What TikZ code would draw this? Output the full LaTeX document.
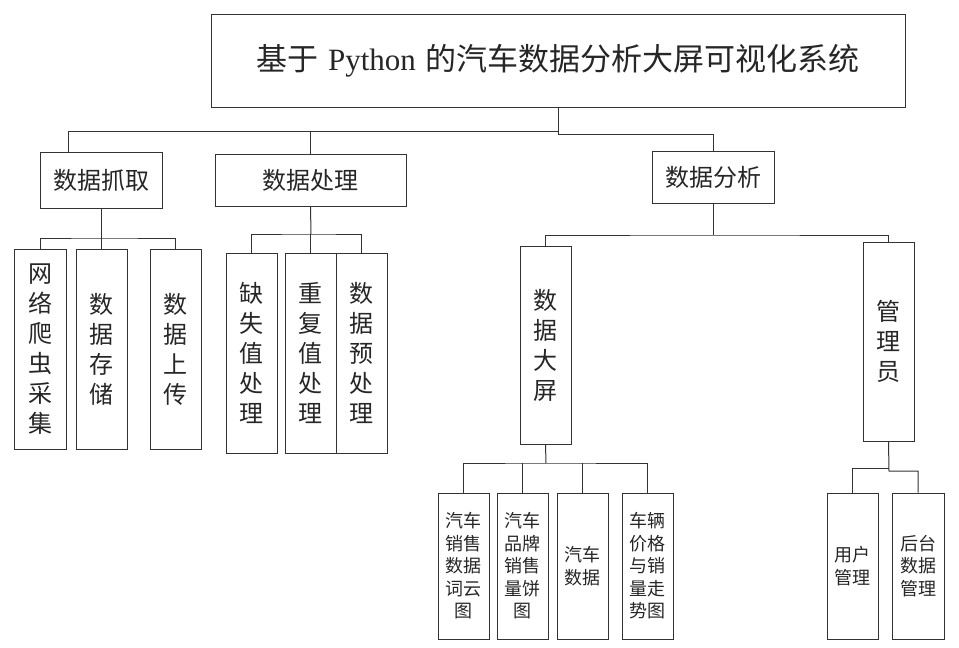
\documentclass[tikz,border=0pt]{standalone}
\usepackage{fontspec}
\setmainfont{Noto Sans CJK SC}
\newfontfamily\pyfont{Liberation Serif}
\usepackage{tikz}

\begin{document}
\begin{tikzpicture}[x=1pt, y=-1pt, line width=1pt, draw=black!80,
        box/.style={draw=black!80, text=black!85, rectangle, inner sep=0pt, align=center},
        big/.style={box, font=\fontsize{24}{30}\selectfont},
        small/.style={box, minimum width=51pt, minimum height=146pt, font=\fontsize{18}{22.5}\selectfont}]
        \useasboundingbox (0, 0) rectangle (959, 648);

        \node[box, minimum width=694pt, minimum height=93pt, font=\fontsize{31}{36}\selectfont] (title) at (558, 60.5)
            {基于\hspace{0.3em}{\pyfont Python}\hspace{0.3em}的汽车数据分析大屏可视化系统};

        \node[big, minimum width=122pt, minimum height=56pt] (grab) at (101, 180) {数据抓取};
        \node[big, minimum width=191pt, minimum height=52pt] (proc) at (310.5, 180) {数据处理};
        \node[big, minimum width=122pt, minimum height=52pt] (anal) at (713, 177) {数据分析};

        \coordinate (t1) at (558, 131);
        \coordinate (t2) at (558, 134);
        \draw (title.south) -- (t2) -| (anal.north);
        \draw (t1) -| ([xshift=29pt]grab.north west);
        \draw (proc.north) -- (proc.north |- t1);

        %%%

        \node[big, minimum width=52pt, minimum height=200pt] (g1) at (40, 349) {网\\络\\爬\\虫\\采\\集};
        \node[big, minimum width=51pt, minimum height=200pt] (g2) at (101.5, 349) {数\\据\\存\\储};
        \node[big, minimum width=51pt, minimum height=200pt] (g3) at (175.5, 349) {数\\据\\上\\传};

        \coordinate (gb) at (101, 238);
        \draw (grab.south) -- (gb);
        \draw (g1.north) |- (gb) -| (g3.north);
        \draw (g2.north) -- (g2.north |- gb);

        \node[big, minimum width=51pt, minimum height=200pt] (p1) at (251.5, 353) {缺\\失\\值\\处\\理};
        \node[big, minimum width=51pt, minimum height=200pt] (p2) at (310.5, 353) {重\\复\\值\\处\\理};
        \node[big, minimum width=51pt, minimum height=200pt] (p3) at (361.5, 353) {数\\据\\预\\处\\理};

        \coordinate (pb) at (311, 234);
        \draw (proc.south) -- (pb);
        \draw (p1.north) |- (pb) -| (p3.north);
        \draw (p2.north) -- (p2.north |- pb);

        %%%

        \node[big, minimum width=51pt, minimum height=198pt] (screen) at (545.5, 345) {数\\据\\大\\屏};
        \node[big, minimum width=51pt, minimum height=199pt] (admin) at (888.5, 341.5) {管\\理\\员};

        \coordinate (ab) at (713, 235);
        \draw (anal.south) -- (ab);
        \draw (screen.north) |- (ab) -| (admin.north);

        \node[small] (s1) at (463.5, 566) {汽车\\销售\\数据\\词云\\图};
        \node[small] (s2) at (522.5, 566) {汽车\\品牌\\销售\\量饼\\图};
        \node[small] (s3) at (582.5, 566) {汽车\\数据};
        \node[small] (s4) at (647.5, 566) {车辆\\价格\\与销\\量走\\势图};

        \coordinate (sb) at (546, 463);
        \draw (screen.south) -- (sb);
        \draw (s1.north) |- (sb) -| (s4.north);
        \draw (s2.north) -- (s2.north |- sb);
        \draw (s3.north) -- (s3.north |- sb);

        \node[small] (u1) at (852.5, 566) {用户\\管理};
        \node[small, minimum width=52pt] (u2) at (918, 566) {后台\\数据\\管理};

        \coordinate (a1) at (889, 468);
        \coordinate (a2) at (889, 471);
        \draw (admin.south) -- (a2) -| (u2.north);
        \draw (a1) -| (u1.north);
    \end{tikzpicture}
\end{document}
